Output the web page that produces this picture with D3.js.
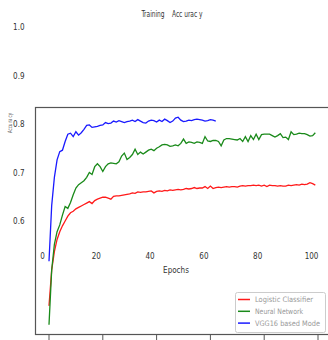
<!DOCTYPE html>
<html lang="en">
<head>
    <meta charset="UTF-8">
    <title>Training Accuracy</title>
    <script src="https://d3js.org/d3.v7.min.js"></script>
    <style>
        body { margin: 0; background: #fff; }
        text { font-family: "Liberation Sans Narrow", "DejaVu Sans Condensed", sans-serif; }
    </style>
</head>
<body>
    <svg id="chart"></svg>
    <script>
        // Data
        var seriesNames = ["Logistic Classifier", "Neural Network", "VGG16 based Mode"];
        var xTicks = [0, 20, 40, 60, 80, 100];
        var yTicks = [1.0, 0.9, 0.8, 0.7, 0.6];

        var logistic = [0.425, 0.499, 0.537, 0.562, 0.578, 0.590, 0.600, 0.610, 0.617, 0.620,
            0.625, 0.628, 0.631, 0.634, 0.637, 0.640, 0.636, 0.642, 0.645, 0.647,
            0.649, 0.649, 0.647, 0.645, 0.651, 0.652, 0.652, 0.653, 0.654, 0.655,
            0.656, 0.658, 0.657, 0.660, 0.659, 0.660, 0.660, 0.661, 0.662, 0.658,
            0.661, 0.662, 0.661, 0.663, 0.662, 0.664, 0.663, 0.664, 0.665, 0.664,
            0.665, 0.667, 0.666, 0.667, 0.669, 0.667, 0.668, 0.668, 0.671, 0.667,
            0.672, 0.667, 0.669, 0.670, 0.669, 0.670, 0.671, 0.670, 0.671, 0.671,
            0.670, 0.672, 0.673, 0.672, 0.673, 0.673, 0.674, 0.673, 0.674, 0.672,
            0.674, 0.671, 0.674, 0.673, 0.673, 0.672, 0.673, 0.672, 0.672, 0.674,
            0.673, 0.674, 0.675, 0.674, 0.676, 0.675, 0.676, 0.679, 0.677, 0.674];

        var neural = [0.386, 0.499, 0.552, 0.578, 0.592, 0.612, 0.630, 0.626, 0.638, 0.654,
            0.668, 0.675, 0.679, 0.683, 0.690, 0.700, 0.696, 0.712, 0.718, 0.712,
            0.702, 0.712, 0.718, 0.720, 0.719, 0.718, 0.722, 0.734, 0.740, 0.727,
            0.731, 0.737, 0.748, 0.737, 0.742, 0.738, 0.742, 0.746, 0.748, 0.745,
            0.750, 0.753, 0.757, 0.758, 0.757, 0.754, 0.755, 0.757, 0.755, 0.760,
            0.769, 0.760, 0.763, 0.762, 0.760, 0.763, 0.762, 0.760, 0.774, 0.765,
            0.764, 0.766, 0.766, 0.764, 0.755, 0.767, 0.770, 0.770, 0.769, 0.768,
            0.767, 0.770, 0.764, 0.774, 0.764, 0.776, 0.768, 0.779, 0.768, 0.778,
            0.779, 0.779, 0.779, 0.776, 0.773, 0.776, 0.780, 0.772, 0.773, 0.768,
            0.784, 0.778, 0.779, 0.781, 0.780, 0.780, 0.778, 0.775, 0.776, 0.782];

        var vgg = [0.517, 0.632, 0.690, 0.726, 0.743, 0.746, 0.764, 0.779, 0.781, 0.774,
            0.784, 0.777, 0.782, 0.789, 0.797, 0.798, 0.793, 0.794, 0.795, 0.797,
            0.798, 0.803, 0.801, 0.802, 0.806, 0.804, 0.807, 0.805, 0.803, 0.805,
            0.806, 0.808, 0.805, 0.809, 0.806, 0.803, 0.802, 0.806, 0.808, 0.807,
            0.804, 0.808, 0.805, 0.810, 0.807, 0.803, 0.806, 0.812, 0.814, 0.808,
            0.805, 0.806, 0.808, 0.807, 0.809, 0.810, 0.809, 0.808, 0.806, 0.807,
            0.809, 0.808, 0.806];

        var colors = ["#ff1a1a", "#1a8a1a", "#1a1aff"];
        var series = [logistic, neural, vgg];

        var width = 328, height = 340;
        var svg = d3.select("#chart").attr("width", width).attr("height", height);

        var x = d3.scaleLinear().domain([0, 100]).range([49, 318]);
        var y = d3.scaleLinear().domain([0.6, 1.0]).range([221, 27]);

        // Frame (runs off the right edge)
        svg.append("rect")
            .attr("x", 35.5).attr("y", 107.5)
            .attr("width", 320).attr("height", 227)
            .attr("fill", "none").attr("stroke", "#555").attr("stroke-width", 1.2);

        // Bottom ticks
        svg.selectAll(".xtick")
            .data(xTicks)
            .enter().append("line")
            .attr("x1", d => x(d)).attr("x2", d => x(d))
            .attr("y1", 335).attr("y2", 340)
            .attr("stroke", "#555");

        // Lines
        var line = d3.line()
            .x((d, i) => x(i))
            .y(d => y(d));

        series.forEach(function(s, i) {
            svg.append("path")
                .datum(s)
                .attr("d", line)
                .attr("fill", "none")
                .attr("stroke", colors[i])
                .attr("stroke-width", 1.3);
        });

        // Y tick labels
        svg.selectAll(".ylab")
            .data(yTicks)
            .enter().append("text")
            .attr("x", 24.5)
            .attr("y", d => y(d) + 3)
            .attr("text-anchor", "end")
            .attr("font-size", 8)
            .attr("fill", "#333")
            .text(d => d.toFixed(1));

        // X tick labels (drawn offset inside the plot)
        svg.selectAll(".xlab")
            .data(xTicks)
            .enter().append("text")
            .attr("x", d => x(d) - 6.5)
            .attr("y", 259)
            .attr("text-anchor", "middle")
            .attr("font-size", 8)
            .attr("fill", "#333")
            .text(d => d);

        // Title
        svg.append("text")
            .attr("x", 172).attr("y", 17)
            .attr("text-anchor", "middle")
            .attr("font-size", 8)
            .attr("fill", "#333")
            .attr("textLength", 61).attr("lengthAdjust", "spacingAndGlyphs")
            .attr("xml:space", "preserve")
            .text("Training    Acc urac y");

        // X axis label
        svg.append("text")
            .attr("x", 176).attr("y", 273)
            .attr("text-anchor", "middle")
            .attr("font-size", 8)
            .attr("fill", "#333")
            .text("Epochs");

        // Y axis label
        svg.append("text")
            .attr("transform", "translate(11.5,123) rotate(-90)")
            .attr("text-anchor", "middle")
            .attr("font-size", 6)
            .attr("fill", "#555")
            .attr("textLength", 20).attr("lengthAdjust", "spacingAndGlyphs")
            .text("Accu ra cy");

        // Legend
        var legend = svg.append("g");
        legend.append("rect")
            .attr("x", 235.5).attr("y", 292.5)
            .attr("width", 90).attr("height", 40)
            .attr("rx", 2)
            .attr("fill", "#fff").attr("stroke", "#ccc");

        var legendWidths = [58, 48, 65];
        seriesNames.forEach(function(name, i) {
            var ly = 299.5 + i * 11.8;
            legend.append("line")
                .attr("x1", 238).attr("x2", 250)
                .attr("y1", ly).attr("y2", ly)
                .attr("stroke", colors[i]).attr("stroke-width", 1.5);
            legend.append("text")
                .attr("x", 255).attr("y", ly + 2.5)
                .attr("font-size", 7.5)
                .attr("fill", "#999")
                .attr("textLength", legendWidths[i]).attr("lengthAdjust", "spacingAndGlyphs")
                .text(name);
        });
    </script>
</body>
</html>
